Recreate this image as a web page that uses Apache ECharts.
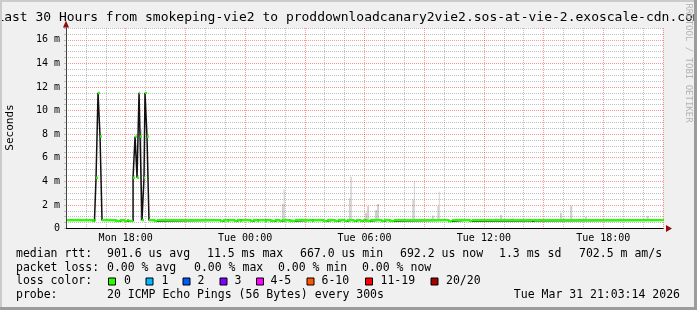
<!DOCTYPE html>
<html><head><meta charset="utf-8">
<script src="https://cdn.jsdelivr.net/npm/echarts@6/dist/echarts.min.js"></script>
<style>html,body{margin:0;padding:0;background:#f0f0f0}#c{width:697px;height:310px}</style>
</head><body><div id="c"></div>
<script>
// ---------- data (hours since Mon 00:00, values in ms) ----------
const titleText = 'Last 30 Hours from smokeping-vie2 to proddownloadcanary2vie2.sos-at-vie-2.exoscale-cdn.com';
const yAxisTitle = 'Seconds';
const watermark = 'RRDTOOL / TOBI OETIKER';
const xMinHour = 15, xMaxHour = 45;
const xLabelHours = [18, 24, 30, 36, 42];
const dayNames = ['Mon', 'Tue'];
const yMax = 17;
const yLabelStep = 2;

// median rtt, step changes: value holds from time[i] until time[i+1]
const medianTimes = [15.05,16.31,16.43,16.51,16.61,16.71,16.81,17.46,17.71,17.91,18.07,18.17,
  18.37,18.47,18.57,18.67,18.72,18.82,18.92,18.97,19.07,19.17,19.42,19.57,22.74,22.89,23.09,23.19,
  23.44,23.59,23.74,23.84,24.25,24.40,24.60,24.70,25.00,25.10,25.25,25.50,25.70,25.85,26.21,26.51,
  27.36,27.46,27.91,28.12,28.47,28.67,28.97,29.12,29.42,29.57,29.77,29.92,30.03,30.28,30.83,30.98,
  31.23,31.48,34.20,34.40,35.25,35.40,45.05];
const medianValues = [0.71,0.64,0.71,4.3,11.5,7.8,0.71,0.64,0.71,0.64,0.71,0.64,
  4.3,7.8,4.3,11.5,7.8,0.71,4.3,11.5,7.8,0.71,0.64,0.71,0.64,0.71,0.64,0.71,
  0.64,0.71,0.64,0.71,0.64,0.71,0.64,0.71,0.64,0.71,0.64,0.71,0.64,0.71,0.64,0.71,
  0.64,0.71,0.64,0.71,0.64,0.71,0.64,0.71,0.64,0.71,0.64,0.71,0.64,0.71,0.64,0.71,
  0.64,0.71,0.62,0.71,0.64,0.71,0.71];

// smoke (ping spread) above the median
const smokeBase = 0.64;
const smokeInnerStart = [18.72,25.85,29.22,30.03,30.13,30.53,30.63,32.40,33.39,33.66,36.56,36.81,37.41,39.82,40.33,41.08,42.80,44.18];
const smokeInnerEnd   = [18.82,26.00,29.37,30.13,30.23,30.63,30.73,32.54,33.49,33.79,36.67,36.91,37.51,39.92,40.44,41.17,42.92,44.28];
const smokeInnerTop   = [8.4, 2.1, 2.56,1.34,1.9, 1.57,2.08,2.47,1.1, 1.9, 0.87,1.14,0.86,1.34,1.93,1.0, 0.86,1.06];
const smokeOuterStart = [25.93,29.28,32.48,33.73];
const smokeOuterEnd   = [26.00,29.37,32.54,33.79];
const smokeOuterTop   = [3.3, 4.4, 4.03,3.12];
// smoke below the median
const smokeLowStart = [38.42];
const smokeLowEnd   = [38.52];
const smokeLowBottom = [0.55];

const statRow1 = ['median rtt:', '901.6 us avg', '11.5 ms max', '667.0 us min', '692.2 us now', '1.3 ms sd', '702.5 m am/s'];
const statRow2 = ['packet loss:', '0.00 % avg', '0.00 % max', '0.00 % min', '0.00 % now'];
const lossTitle = 'loss color:';
const lossLabels = ['0', '1', '2', '3', '4-5', '6-10', '11-19', '20/20'];
const probeRow = ['probe:', '20 ICMP Echo Pings (56 Bytes) every 300s'];
const dateText = 'Tue Mar 31 21:03:14 2026';

// ---------- styles / layout ----------
const lossColors = ['#26ff00', '#00b8ff', '#0059ff', '#7e00ff', '#ff00ff', '#ff5500', '#ff0000', '#a10000'];
const MONO = '"DejaVu Sans Mono", monospace';
const RED = 'rgba(255,0,0,0.42)';
const GRAY = 'rgba(140,140,140,0.55)';

const medianLine = medianTimes.map((t, i) => [t, medianValues[i]]);
const medianSegs = [];
for (let i = 0; i < medianTimes.length - 1; i++) medianSegs.push([medianTimes[i], medianTimes[i + 1], medianValues[i]]);
const innerData = smokeInnerStart.map((s, i) => [s, smokeInnerEnd[i], smokeBase, smokeInnerTop[i]]);
const outerData = smokeOuterStart.map((s, i) => [s, smokeOuterEnd[i], smokeBase, smokeOuterTop[i]]);
const lowData = smokeLowStart.map((s, i) => [s, smokeLowEnd[i], smokeLowBottom[i], smokeBase]);

function rectSeries(data, fill, z) {
  return {
    type: 'custom', data: data, z: z, clip: false, silent: true,
    encode: { x: [0, 1], y: [2, 3] },
    renderItem: function (params, api) {
      const a = api.coord([api.value(0), api.value(3)]);
      const b = api.coord([api.value(1), api.value(2)]);
      return { type: 'rect', shape: { x: a[0], y: a[1], width: b[0] - a[0], height: b[1] - a[1] }, style: { fill: fill } };
    }
  };
}

const chart = echarts.init(document.getElementById('c'), null, { renderer: 'canvas' });

const row1X = [16, 107, 207, 300, 400, 499, 579];
const row2X = [16, 107, 194, 278, 362];
const sqX = [108, 145.5, 182.5, 219.5, 256, 306.5, 365, 430.5];
const lblX = [124, 161.5, 197.5, 234.5, 270.5, 321.5, 380.5, 446];
const rowY = [254.5, 268, 281.5, 295];

const graphics = [];
// frame
graphics.push({ type: 'rect', shape: { x: 0, y: 0, width: 697, height: 2 }, style: { fill: '#cbcbcb' }, z: 100 });
graphics.push({ type: 'rect', shape: { x: 0, y: 0, width: 2, height: 310 }, style: { fill: '#cbcbcb' }, z: 100 });
graphics.push({ type: 'rect', shape: { x: 694, y: 0, width: 3, height: 310 }, style: { fill: '#9c9c9c' }, z: 101 });
graphics.push({ type: 'rect', shape: { x: 0, y: 307, width: 697, height: 3 }, style: { fill: '#9c9c9c' }, z: 101 });
function txt(s, x, y, opts) {
  return Object.assign({ type: 'text', x: x, y: y, z: 50, style: Object.assign({ text: s, font: '11.5px ' + MONO, fill: '#000', align: 'left', verticalAlign: 'middle' }, opts || {}) });
}
graphics.push(txt(titleText, 348.5, 17.5, { font: '13px ' + MONO, align: 'center' }));
graphics.push(Object.assign(txt(yAxisTitle, 10, 127.5, { font: '11px ' + MONO, align: 'center' }), { rotation: Math.PI / 2 }));
graphics.push(Object.assign(txt(watermark, 688.5, 63, { font: '9px ' + MONO, align: 'center', fill: '#b4b4b4' }), { rotation: -Math.PI / 2 }));
statRow1.forEach((s, i) => graphics.push(txt(s, row1X[i], rowY[0])));
statRow2.forEach((s, i) => graphics.push(txt(s, row2X[i], rowY[1])));
graphics.push(txt(lossTitle, 16, rowY[2]));
lossLabels.forEach((s, i) => {
  graphics.push({ type: 'rect', z: 50, shape: { x: sqX[i] + 0.5, y: rowY[2] - 3.5, width: 7, height: 7 }, style: { fill: lossColors[i], stroke: '#000', lineWidth: 1 } });
  graphics.push(txt(s, lblX[i], rowY[2]));
});
probeRow.forEach((s, i) => graphics.push(txt(s, [16, 107][i], rowY[3])));
graphics.push(txt(dateText, 680, rowY[3], { align: 'right' }));

const option = {
  animation: false,
  backgroundColor: '#f0f0f0',
  grid: { left: 66, right: 34, top: 28, bottom: 81.5, show: true, backgroundColor: '#ffffff', borderWidth: 0 },
  xAxis: [{
    type: 'value', min: xMinHour, max: xMaxHour, interval: 1, z: 3,
    axisLine: { show: true, onZero: false, lineStyle: { color: '#000', width: 1 } },
    axisTick: { show: false },
    axisLabel: {
      margin: 5, color: '#000', fontFamily: MONO, fontSize: 10,
      formatter: function (v) {
        if (xLabelHours.indexOf(v) < 0) return '';
        const hh = v % 24;
        return dayNames[Math.floor(v / 24)] + ' ' + (hh < 10 ? '0' : '') + hh + ':00';
      }
    },
    splitLine: { show: true, lineStyle: { color: [RED, GRAY, GRAY], type: [1, 1], width: 1 } }
  }, {
    type: 'value', min: xMinHour, max: xMaxHour, interval: 1, z: 1, position: 'bottom', offset: 0,
    axisLine: { show: true, onZero: false, symbol: ['none', 'triangle'], symbolSize: [7, 6], symbolOffset: [0, 6], lineStyle: { color: '#8e0d0d', width: 1 } },
    axisTick: { show: false }, axisLabel: { show: false }, splitLine: { show: false }
  }],
  yAxis: [{
    type: 'value', min: 0, max: yMax, interval: 0.5, z: 3,
    axisLine: { show: true, onZero: false, lineStyle: { color: '#444', width: 1 } },
    axisTick: { show: true, length: 2, lineStyle: { color: '#bbb' } },
    axisLabel: {
      margin: 6, color: '#000', fontFamily: MONO, fontSize: 10,
      formatter: function (v) {
        if (Math.abs(v / yLabelStep - Math.round(v / yLabelStep)) > 1e-9) return '';
        return v === 0 ? '0' : v + ' m';
      }
    },
    splitLine: { show: true, lineStyle: { color: [RED, GRAY, GRAY, GRAY], type: [1, 1], width: 1 } }
  }, {
    type: 'value', min: 0, max: yMax, interval: 0.5, z: 1, position: 'left', offset: 0,
    axisLine: { show: true, onZero: false, symbol: ['none', 'triangle'], symbolSize: [6, 7], symbolOffset: [0, 4], lineStyle: { color: '#8e0d0d', width: 1 } },
    axisTick: { show: false }, axisLabel: { show: false }, splitLine: { show: false }
  }],
  series: [
    rectSeries(innerData, '#d0d0d0', 2),
    rectSeries(outerData, '#d9d9d9', 2),
    rectSeries(lowData, '#555555', 2),
    {
      type: 'line', data: medianLine, step: 'end', showSymbol: false, symbol: 'none', clip: false, z: 3, silent: true,
      lineStyle: { color: '#111', width: 1.5 }
    },
    {
      type: 'custom', data: medianSegs, z: 4, clip: false, silent: true,
      encode: { x: [0, 1], y: 2 },
      renderItem: function (params, api) {
        const a = api.coord([api.value(0), api.value(2)]);
        const b = api.coord([api.value(1), api.value(2)]);
        return { type: 'line', shape: { x1: a[0], y1: a[1], x2: b[0], y2: b[1] }, style: { stroke: lossColors[0], lineWidth: 2.4, lineCap: 'butt' } };
      }
    }
  ],
  graphic: graphics
};
chart.setOption(option);
</script></body></html>
